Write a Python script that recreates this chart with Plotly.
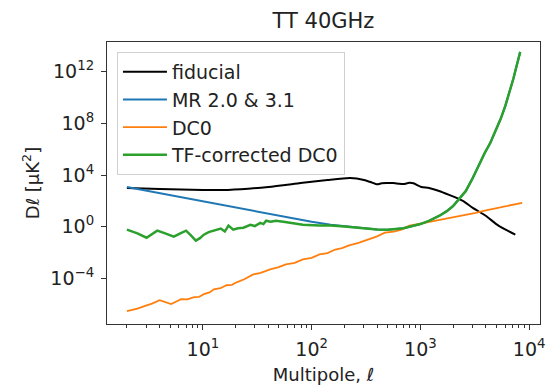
import plotly.graph_objects as go

# ---------------- data ----------------
fid_ell = [2, 4, 10, 17, 40, 79, 140, 226, 303, 360, 398, 440, 490, 568, 640,
           700, 790, 863, 1020, 1200, 1488, 1836, 2457, 3033, 3981, 5224, 7460]
fid_dl = [1.0e3, 8.3e2, 7.1e2, 7.1e2, 1.2e3, 2.4e3, 4.2e3, 5.9e3, 4.2e3, 2.6e3,
          1.9e3, 2.3e3, 2.4e3, 2.4e3, 2.1e3, 2.0e3, 2.5e3, 2.3e3, 1.2e3, 1.0e3,
          5.9e2, 2.9e2, 1.0e2, 2.9e1, 7.1, 1.2, 0.24]

mr_ell = [2, 5, 10, 20, 50, 100, 150, 200, 300, 400, 500, 700, 1000, 1200,
          1500, 1750, 2000, 2300, 2620, 3000, 3440, 3900, 4400, 4910, 5500,
          6050, 6600, 7160, 7700, 8280]
mr_dl = [1200, 275, 93, 31, 7.1, 2.4, 1.4, 1.05, 0.71, 0.60, 0.59, 0.76, 1.6,
         2.8, 7.1, 16, 40, 160, 590, 5.0e3, 5.9e4, 5.0e5, 3.2e6, 2.4e7, 2.5e8,
         2.4e9, 2.5e10, 2.9e11, 3.2e12, 3.5e13]

dc0_ell = [2, 2.5, 2.9, 3.4, 4.0, 4.5, 5.1, 5.7, 6.3, 7.2, 8.3, 9.2, 10.2, 11.5,
           12.6, 14.5, 16.5, 18.5, 20.4, 24, 29, 34, 41.5, 49, 58, 70, 83, 100,
           118, 140, 165, 190, 221, 270, 337, 400, 471, 570, 671, 794, 1000,
           1300, 1618, 2000, 2500, 3228, 4000, 4800, 5689, 7000, 8630]
dc0_dl = [2.9e-7, 4.5e-7, 7.1e-7, 1.1e-6, 2.0e-6, 1.4e-6, 1.0e-6, 1.6e-6, 2.4e-6,
          2.3e-6, 3.5e-6, 3.6e-6, 5.9e-6, 8.0e-6, 1.4e-5, 1.7e-5, 2.9e-5, 3.1e-5,
          4.9e-5, 8.5e-5, 2.0e-4, 2.6e-4, 4.9e-4, 7.0e-4, 1.2e-3, 1.6e-3, 2.9e-3,
          3.8e-3, 7.1e-3, 9.0e-3, 1.7e-2, 2.2e-2, 3.5e-2, 5.6e-2, 0.1, 0.18,
          0.35, 0.42, 0.59, 1.2, 1.7, 2.6, 3.5, 5.3, 7.9, 12, 18, 25, 35, 50, 71]

tf_ell = [2, 2.5, 3.03, 3.4, 3.8, 4.5, 5.4, 6.2, 7.0, 7.8, 8.6, 9.4, 10.2, 11.3,
          12.6, 14.6, 15.9, 17.2, 19, 21, 23.6, 27.3, 30, 33.7, 36, 38.2, 42, 47,
          55, 63, 83, 118, 150, 200, 300, 400, 500, 700, 1000, 1200, 1500, 1750,
          2000, 2300, 2620, 3000, 3440, 3900, 4400, 4910, 5500, 6050, 6600, 7160,
          7700, 8280]
tf_dl = [0.59, 0.30, 0.14, 0.25, 0.49, 0.30, 0.17, 0.30, 0.49, 0.20, 0.083, 0.13,
         0.24, 0.38, 0.49, 0.71, 0.42, 1.2, 0.59, 0.75, 0.83, 1.4, 1.12, 2.0, 1.6,
         2.9, 2.4, 2.9, 2.4, 2.0, 1.4, 1.26, 1.26, 1.05, 0.71, 0.60, 0.59, 0.76,
         1.6, 2.8, 7.1, 16, 40, 160, 590, 5.0e3, 5.9e4, 5.0e5, 3.2e6, 2.4e7,
         2.5e8, 2.4e9, 2.5e10, 2.9e11, 3.2e12, 3.5e13]

x_tick_vals = [10, 100, 1000, 10000]
x_tick_text = ["10<sup>1</sup>", "10<sup>2</sup>", "10<sup>3</sup>", "10<sup>4</sup>"]
x_minor_vals = [m * d for d in (1, 10, 100, 1000) for m in range(2, 10)]
y_tick_vals = [1e-4, 1, 1e4, 1e8, 1e12]
y_tick_text = ["10<sup>\u22124</sup>", "10<sup>0</sup>", "10<sup>4</sup>",
               "10<sup>8</sup>", "10<sup>12</sup>"]

FONT = "DejaVu Sans"
TXT = "#222222"

fig = go.Figure()
fig.add_trace(go.Scatter(x=fid_ell, y=fid_dl, mode="lines", name="fiducial",
                         line=dict(color="black", width=2, shape="spline", smoothing=0.6)))
fig.add_trace(go.Scatter(x=mr_ell, y=mr_dl, mode="lines", name="MR 2.0 &amp; 3.1",
                         line=dict(color="#1f77b4", width=2)))
fig.add_trace(go.Scatter(x=dc0_ell, y=dc0_dl, mode="lines", name="DC0",
                         line=dict(color="#ff7f0e", width=1.8)))
fig.add_trace(go.Scatter(x=tf_ell, y=tf_dl, mode="lines", name="TF-corrected DC0",
                         line=dict(color="#2ca02c", width=2.5)))

axis_common = dict(showline=True, linecolor="#333333", linewidth=1.2, mirror=True,
                   showgrid=False, zeroline=False, ticks="outside", ticklen=5,
                   tickwidth=1, tickcolor="#333333", ticklabelstandoff=3,
                   tickfont=dict(family=FONT, size=19, color=TXT))

fig.update_layout(
    width=553, height=390,
    margin=dict(l=107, r=8, t=42, b=64),
    paper_bgcolor="white", plot_bgcolor="white",
    font=dict(family=FONT, color=TXT, size=19),
    title=dict(text="TT 40GHz", x=0.5, xref="paper", xanchor="center",
               y=1 - 21 / 390, yref="container", yanchor="middle",
               font=dict(family=FONT, size=21, color=TXT)),
    xaxis=dict(type="log", range=[0.118, 4.1], tickvals=x_tick_vals,
               ticktext=x_tick_text,
               minor=dict(tickvals=x_minor_vals, ticks="outside", ticklen=3,
                          tickcolor="#333333", showgrid=False),
               title=dict(text="Multipole, <i>\u2113</i>", standoff=9,
                          font=dict(family=FONT, size=18, color=TXT)),
               **axis_common),
    yaxis=dict(type="log", range=[-7.54, 14.31], tickvals=y_tick_vals,
               ticktext=y_tick_text,
               title=dict(text="D\u2113 [\u03bcK<sup>2</sup>]", standoff=6,
                          font=dict(family=FONT, size=18, color=TXT)),
               **axis_common),
    legend=dict(x=0.023, y=0.965, xanchor="left", yanchor="top",
                bgcolor="rgba(255,255,255,0.85)", bordercolor="#d0d0d0",
                borderwidth=1, font=dict(family=FONT, size=19, color=TXT),
                itemwidth=44, tracegroupgap=0),
    showlegend=True,
)

fig.write_html("out.html")
